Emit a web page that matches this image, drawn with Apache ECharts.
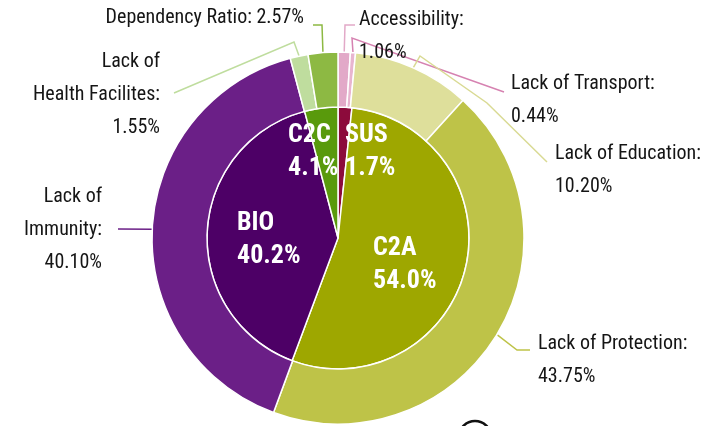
<!DOCTYPE html>
<html>
<head>
<meta charset="utf-8">
<script src="https://cdn.jsdelivr.net/npm/echarts@6/dist/echarts.min.js"></script>
<style>
html, body { margin: 0; padding: 0; background: #fff; }
#main { width: 705px; height: 426px; }
</style>
</head>
<body>
<div id="main"></div>
<script>
// inner pie (categories)
var innerNames = ['SUS', 'C2A', 'BIO', 'C2C'];
var innerValues = [1.7, 54.0, 40.2, 4.1];
var innerColors = ['#8c0a3b', '#9ea700', '#4d0066', '#599a0c'];

// outer ring (factors)
var outerNames = ['Accessibility', 'Lack of Transport', 'Lack of Education', 'Lack of Protection',
  'Lack of\nImmunity', 'Lack of\nHealth Facilites', 'Dependency Ratio'];
var outerValues = [1.06, 0.44, 10.20, 43.75, 40.10, 1.55, 2.57];
var outerColors = ['#e2a9c8', '#e8b5d0', '#dedf9b', '#bec348', '#6b1f87', '#bfdd9e', '#8db943'];
var outerLineColors = ['#e2a9c8', '#d682b1', '#d9da93', '#bec348', '#6b1f87', '#bfdd9e', '#8db943'];

var FONT = '"Roboto Condensed", "DejaVu Sans Condensed", sans-serif';
var CX = 338, CY = 238, R_IN = 131, R_OUT = 186;

// where the labels sit (label layout only)
var innerLayout = [
  { x: 345, y: 152 },
  { x: 373, y: 265 },
  { x: 237, y: 240 },
  { x: 288, y: 152 }
];
var outerLayout = [
  { x: 359, y: 36, align: 'left', line: [[345, 25], [355, 25]] },
  { x: 511, y: 100, align: 'left', line: [[352, 38], [504, 92]] },
  { x: 555, y: 170, align: 'left', line: [[420, 56], [487, 103], [547, 162]] },
  { x: 538, y: 360, align: 'left', line: [[517, 350], [530, 350]] },
  { x: 102, y: 230, align: 'right', line: [[118, 229]] },
  { x: 160, y: 95, align: 'right', line: [[294, 42], [174, 93]] },
  { x: 304, y: 18, align: 'right', line: [[322, 25], [313, 25]] }
];

function edgePoint(values, idx) {
  var total = 0, before = 0;
  for (var i = 0; i < values.length; i++) {
    total += values[i];
    if (i < idx) before += values[i];
  }
  var a = (90 - 360 * (before + values[idx] / 2) / total) * Math.PI / 180;
  return [CX + R_OUT * Math.cos(a), CY - R_OUT * Math.sin(a)];
}

var innerData = innerNames.map(function (n, i) {
  return { name: n, value: innerValues[i], itemStyle: { color: innerColors[i] } };
});
var outerData = outerNames.map(function (n, i) {
  return {
    name: n, value: outerValues[i],
    itemStyle: { color: outerColors[i] },
    labelLine: { lineStyle: { color: outerLineColors[i] } }
  };
});

var chart = echarts.init(document.getElementById('main'), null, { renderer: 'canvas' });
chart.setOption({
  backgroundColor: '#fff',
  animation: false,
  series: [{
    type: 'pie',
    center: [CX, CY],
    radius: [0, R_IN],
    startAngle: 90,
    avoidLabelOverlap: false,
    itemStyle: { borderColor: '#fff', borderWidth: 1.5 },
    label: {
      show: true,
      position: 'inside',
      color: '#fff',
      fontFamily: FONT,
      fontWeight: 'bold',
      fontSize: 26,
      lineHeight: 33,
      align: 'left',
      formatter: function (p) {
        return p.name + '\n' + p.value.toFixed(1) + '%';
      }
    },
    labelLayout: function (p) {
      var l = innerLayout[p.dataIndex];
      return { x: l.x, y: l.y, align: 'left', verticalAlign: 'middle' };
    },
    data: innerData
  }, {
    type: 'pie',
    center: [CX, CY],
    radius: [R_IN, R_OUT],
    startAngle: 90,
    avoidLabelOverlap: false,
    itemStyle: { borderColor: '#fff', borderWidth: 1.5 },
    label: {
      show: true,
      color: '#151515',
      fontFamily: FONT,
      fontSize: 20,
      lineHeight: 33,
      formatter: function (p) {
        var sep = p.name == 'Dependency Ratio' ? ' ' : '\n';
        return p.name + ':' + sep + p.value.toFixed(2) + '%';
      }
    },
    labelLine: { show: true, length: 10, length2: 10, lineStyle: { width: 1.5 } },
    labelLayout: function (p) {
      var l = outerLayout[p.dataIndex];
      var pts = [edgePoint(outerValues, p.dataIndex)].concat(l.line);
      return { x: l.x, y: l.y, align: l.align, verticalAlign: 'middle', labelLinePoints: pts };
    },
    data: outerData
  }],
  graphic: [{
    type: 'circle',
    shape: { cx: 475, cy: 437, r: 16 },
    style: { fill: 'none', stroke: '#111', lineWidth: 2.5 }
  }]
});
</script>
</body>
</html>
